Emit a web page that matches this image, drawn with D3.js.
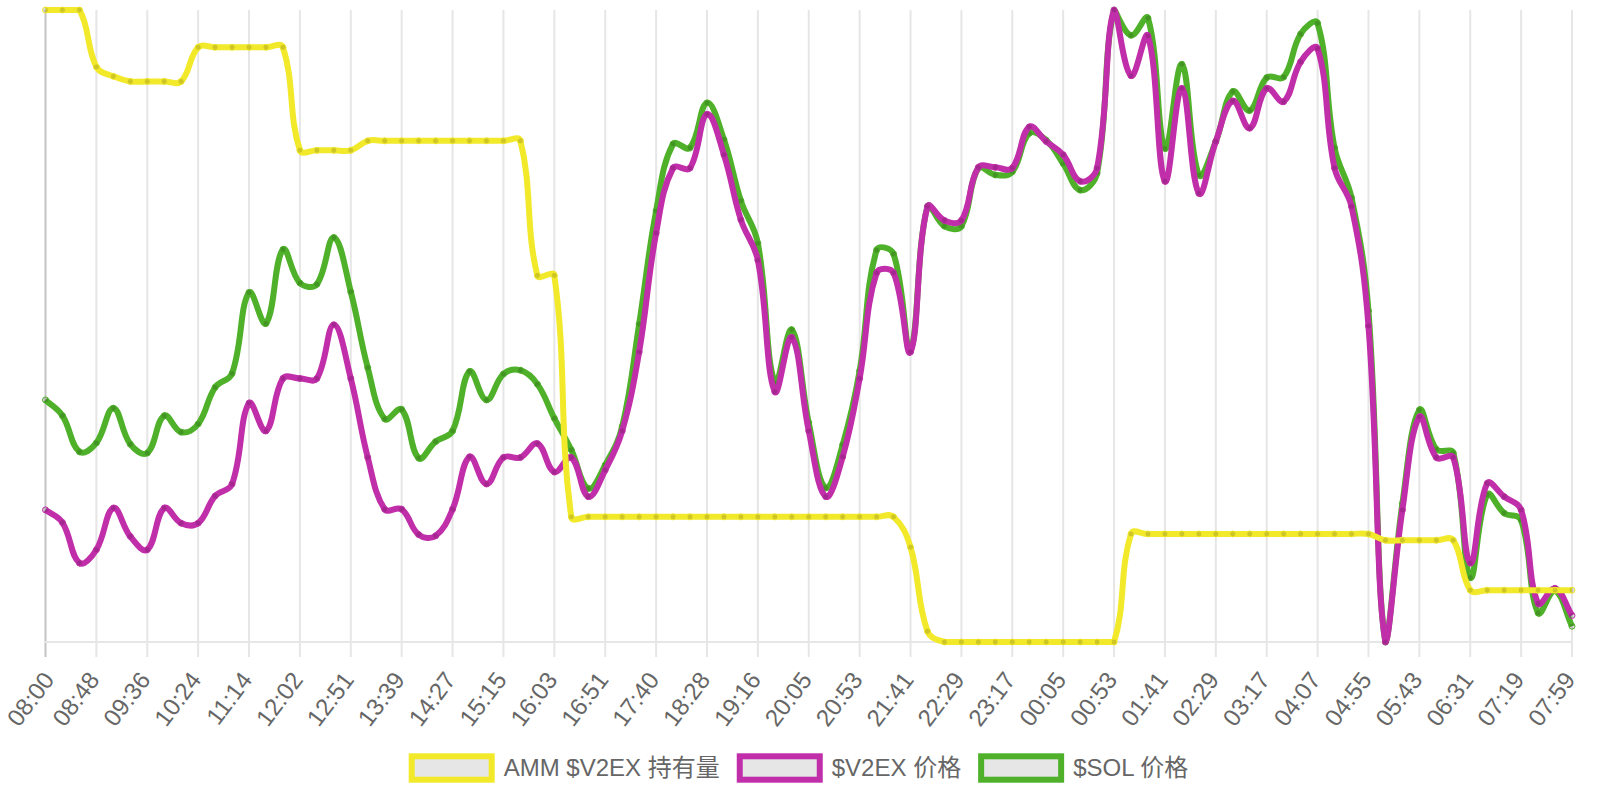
<!DOCTYPE html>
<html><head><meta charset="utf-8">
<script src="https://cdn.jsdelivr.net/npm/d3@7"></script>
<style>
html,body{margin:0;padding:0;background:#fff;}
svg{display:block;}
text{font-family:"Liberation Sans", Arial, Helvetica, "Noto Sans CJK SC", sans-serif;}
</style></head><body>
<svg id="chart" width="1600" height="800"></svg>
<script>
// ---- data (values are relative, 0-100 of each series' range) ----
const tickLabels = ["08:00","08:48","09:36","10:24","11:14","12:02","12:51","13:39","14:27","15:15","16:03","16:51","17:40","18:28","19:16","20:05","20:53","21:41","22:29","23:17","00:05","00:53","01:41","02:29","03:17","04:07","04:55","05:43","06:31","07:19","07:59"];
const pointsPerTick = 3;
const seriesNames = ["AMM $V2EX 持有量", "$V2EX 价格", "$SOL 价格"];
const ammHolding = [
 100,100,100,91.0,89.5,88.7,88.7,88.7,88.7,94.1,
 94.1,94.1,94.1,94.1,94.1,77.8,77.8,77.8,77.8,79.3,
 79.3,79.3,79.3,79.3,79.3,79.3,79.3,79.3,79.3,58.0,
 58.0,19.8,19.8,19.8,19.8,19.8,19.8,19.8,19.8,19.8,
 19.8,19.8,19.8,19.8,19.8,19.8,19.8,19.8,19.8,19.8,
 19.8,15.0,1.7,0,0,0,0,0,0,0,
 0,0,0,0,17.1,17.1,17.1,17.1,17.1,17.1,
 17.1,17.1,17.1,17.1,17.1,17.1,17.1,17.1,17.1,16.1,
 16.1,16.1,16.1,16.1,8.2,8.2,8.2,8.2,8.2,8.2,
 8.2];
const v2exPrice = [
 20.9,18.9,12.5,14.6,21.2,16.7,14.6,21.2,18.8,18.8,
 23.1,25.0,37.8,33.4,41.7,41.7,41.7,50.2,41.7,29.2,
 21.0,21.0,17.0,16.8,21.0,29.3,25.0,29.2,29.2,31.4,
 26.9,29.2,23.0,27.2,33.4,45.9,64.7,75.0,75.0,83.5,
 77.1,66.8,60.4,39.6,48.2,33.4,23.0,29.3,41.7,58.4,
 58.4,45.9,68.9,66.7,66.7,75.1,75.1,75.0,81.5,79.2,
 77.1,72.9,75.0,100,89.6,95.9,72.9,87.6,71.0,79.2,
 85.6,81.3,87.6,85.5,91.8,93.9,75.0,68.9,50.0,0,
 20.9,35.6,29.2,29.2,12.5,25.1,23.0,20.9,6.1,8.5,
 4.2];
const solPrice = [
 38.3,35.8,30.1,31.5,37.0,31.3,29.9,35.8,33.2,34.5,
 40.3,42.5,55.3,50.4,62.1,56.8,56.6,64.0,55.4,43.4,
 35.3,36.8,29.1,31.7,33.4,42.8,38.3,42.4,43.0,40.8,
 35.4,30.4,24.3,28.0,34.1,50.3,68.2,78.8,78.2,85.3,
 79.5,69.8,63.1,41.0,49.4,34.7,24.4,31.2,42.9,62.0,
 61.4,46.2,68.9,65.8,65.8,75.0,73.9,74.4,80.5,79.4,
 75.7,71.5,74.2,100,96.0,98.7,78.1,91.4,73.9,79.2,
 87.1,84.1,89.3,89.4,96.2,97.9,78.2,70.3,52.4,0,
 21.9,36.7,30.5,29.9,10.2,23.3,20.4,19.3,4.6,8.1,
 2.5];
const seriesColors = ["#f2e92b", "#c12ea9", "#4fb02a"];

// ---- layout ----
const W = 1600, H = 800;
const area = {left: 45.5, right: 1572, top: 10, bottom: 642};
const svg = d3.select("#chart");
const series = [ammHolding, v2exPrice, solPrice];
const n = ammHolding.length;

const x = d3.scalePoint().domain(d3.range(n)).range([area.left, area.right]);
const yScales = series.map(s => d3.scaleLinear().domain(d3.extent(s)).range([area.bottom, area.top]));

// grid + x axis
const tickIdx = tickLabels.map((_, k) => k * pointsPerTick);
const xAxis = d3.axisBottom(x).tickValues(tickIdx).tickFormat(i => tickLabels[i / pointsPerTick]).tickSize(0);
const gGrid = svg.append("g");
gGrid.selectAll("line.grid").data(tickIdx).join("line")
  .attr("x1", d => x(d)).attr("x2", d => x(d))
  .attr("y1", area.top).attr("y2", area.bottom + 15)
  .attr("stroke", (d, k) => k === 0 ? "#c4c4c4" : "#e6e6e6").attr("stroke-width", 2);
gGrid.append("line").attr("x1", area.left - 1).attr("x2", area.right + 1)
  .attr("y1", area.bottom).attr("y2", area.bottom).attr("stroke", "#e6e6e6").attr("stroke-width", 2);

const gx = svg.append("g").attr("transform", `translate(0,${area.bottom})`).call(xAxis);
gx.select(".domain").remove();
gx.selectAll(".tick text")
  .attr("fill", "#666").attr("font-size", 24)
  .attr("font-family", "'Liberation Sans', Arial, sans-serif")
  .attr("text-anchor", "end")
  .attr("dy", "0.35em").attr("y", 0).attr("x", 0)
  .attr("transform", (d, k) => `translate(${k === 0 ? 2.5 : -3},33) rotate(-53)`);

// Chart.js-style spline (tension 0.4, control points capped to chart area)
function splinePath(pts, t) {
  const cps = pts.map((p, i) => {
    const prev = pts[i - 1] || p, next = pts[i + 1] || p;
    const d01 = Math.hypot(p[0] - prev[0], p[1] - prev[1]);
    const d12 = Math.hypot(next[0] - p[0], next[1] - p[1]);
    let s01 = d01 / (d01 + d12), s12 = d12 / (d01 + d12);
    if (!isFinite(s01)) s01 = 0; if (!isFinite(s12)) s12 = 0;
    const fa = t * s01, fb = t * s12;
    const cap = q => [Math.max(area.left, Math.min(area.right, q[0])), Math.max(area.top, Math.min(area.bottom, q[1]))];
    return {
      prev: cap([p[0] - fa * (next[0] - prev[0]), p[1] - fa * (next[1] - prev[1])]),
      next: cap([p[0] + fb * (next[0] - prev[0]), p[1] + fb * (next[1] - prev[1])])
    };
  });
  const path = d3.path();
  path.moveTo(pts[0][0], pts[0][1]);
  for (let i = 1; i < pts.length; i++) {
    path.bezierCurveTo(cps[i - 1].next[0], cps[i - 1].next[1], cps[i].prev[0], cps[i].prev[1], pts[i][0], pts[i][1]);
  }
  return path.toString();
}

// datasets drawn in reverse order (first dataset on top)
[2, 1, 0].forEach(si => {
  const s = series[si], ys = yScales[si];
  const pts = s.map((v, i) => [x(i), ys(v)]);
  const g = svg.append("g");
  g.append("path").attr("d", splinePath(pts, 0.4))
    .attr("fill", "none").attr("stroke", seriesColors[si]).attr("stroke-width", 6)
    .attr("stroke-linejoin", "round").attr("stroke-linecap", "butt");
  g.selectAll("circle").data(s).join("circle")
    .attr("cx", (d, i) => x(i)).attr("cy", d => ys(d)).attr("r", 3)
    .attr("fill", "rgba(0,0,0,0.15)").attr("stroke", seriesColors[si]).attr("stroke-width", 1);
});

// legend
const legend = svg.append("g");
const items = seriesNames.map((name, i) => {
  const t = legend.append("text").text(name).attr("font-size", 24).attr("fill", "#666").attr("dy", "0.35em");
  return {t, w: 80 + 12 + t.node().getComputedTextLength(), i};
});
const pad = 20;
const total = d3.sum(items, d => d.w) + pad * (items.length - 1);
let cx = (W - total) / 2;
const ly = 768;
items.forEach(it => {
  legend.append("rect").attr("x", cx).attr("y", ly - 11.7).attr("width", 80).attr("height", 23.4)
    .attr("fill", "#e6e6e6").attr("stroke", seriesColors[it.i]).attr("stroke-width", 6);
  it.t.attr("x", cx + 92).attr("y", ly);
  it.t.raise();
  cx += it.w + pad;
});
</script>
</body></html>
